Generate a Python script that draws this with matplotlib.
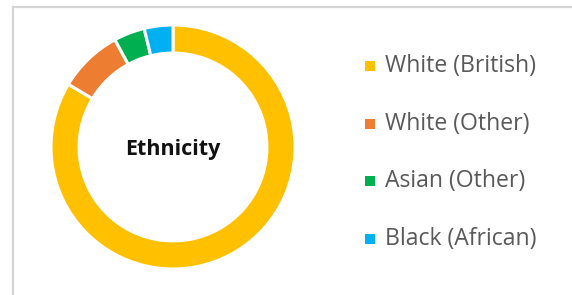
import matplotlib.pyplot as plt
from matplotlib.patches import Rectangle
from matplotlib.lines import Line2D

labels = ['White (British)', 'White (Other)', 'Asian (Other)', 'Black (African)']
shares = [83.6, 8.5, 4.1, 3.8]
colors = ['#FFC000', '#ED7D31', '#00B050', '#00B0F0']

W, H = 572, 295
fig = plt.figure(figsize=(W / 100, H / 100), dpi=100)

# chart frame: grey top and left edges only
fig.lines.append(Line2D([13 / W, 1.0], [(H - 7) / H, (H - 7) / H],
                        transform=fig.transFigure, color='#d4d4d4', linewidth=1.6))
fig.lines.append(Line2D([13 / W, 13 / W], [0.0, (H - 7) / H],
                        transform=fig.transFigure, color='#d4d4d4', linewidth=1.6))

# donut: centre (173, 147), outer radius ~122 px
r = 122
cx, cy = 173, 147
ax = fig.add_axes([(cx - r) / W, (H - cy - r) / H, 2 * r / W, 2 * r / H])
ax.pie(shares, colors=colors, startangle=90, counterclock=False,
       radius=1.0, wedgeprops=dict(width=0.23, edgecolor='white', linewidth=2.2))
ax.set_xlim(-1, 1)
ax.set_ylim(-1, 1)
ax.set_aspect('equal')
ax.axis('off')
ax.text(0, -0.02, 'Ethnicity', ha='center', va='center', fontsize=15.5,
        fontweight='bold', family=['Open Sans', 'DejaVu Sans'], color='#111111')

# legend
rows = [66, 124, 181, 239]
for lab, col, y in zip(labels, colors, rows):
    fig.patches.append(Rectangle((365 / W, (H - y - 5) / H), 10 / W, 10 / H,
                                 transform=fig.transFigure, facecolor=col,
                                 edgecolor='none'))
    fig.text(385 / W, (H - y) / H, lab, ha='left', va='center', fontsize=16.6,
             family=['Open Sans', 'DejaVu Sans'], color='#595959')

fig.savefig('out.png', dpi=100)
